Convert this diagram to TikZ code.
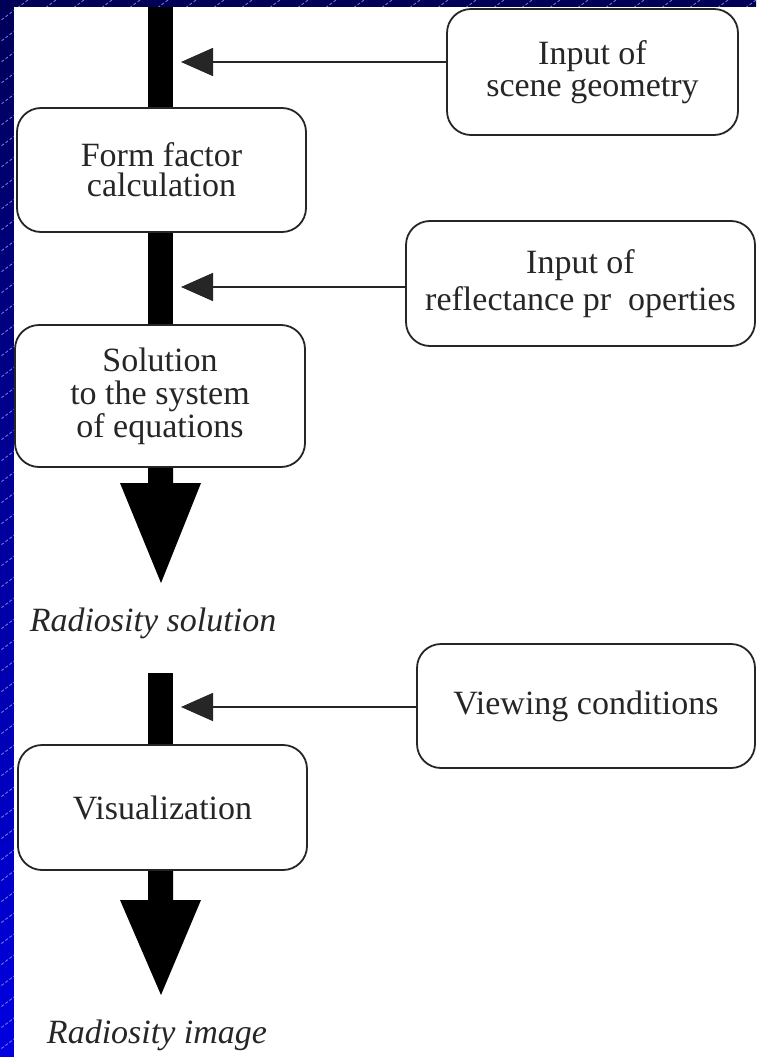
\documentclass[tikz,border=0pt]{standalone}
\usepackage{fontspec}
\setmainfont{Liberation Serif}
\usetikzlibrary{arrows.meta,calc}
\definecolor{bgtop}{RGB}{0,0,88}
\definecolor{bgbot}{RGB}{0,0,225}
\definecolor{stripe}{RGB}{130,130,225}
\begin{document}
\begin{tikzpicture}[x=1pt,y=-1pt,
  box/.style={draw=black!85, line width=1.8pt, rounded corners=24pt, fill=white, align=center,
              font=\fontsize{34}{32}\selectfont, inner sep=0pt, text=black!85},
  bar/.style={line width=25pt, black},
  feed/.style={line width=1.6pt, black!85, -{Triangle[length=32pt,width=28pt]}},
  result/.style={font=\fontsize{34}{40}\selectfont\itshape, text=black!85, inner sep=0pt}
]
\useasboundingbox (0,0) rectangle (756,1057);
% background
\shade[top color=bgtop, bottom color=bgbot] (0,0) rectangle (756,1057);
\begin{scope}
  \clip (0,0) rectangle (756,1057);
  \foreach \k in {0,...,53}
    \draw[stripe, line width=0.8pt, dash pattern=on 3pt off 2pt] (\k*28,0) -- ++(-1410,1057);
\end{scope}
\fill[white] (14,7) rectangle (770,1070);

% boxes
\node[box, minimum width=291pt, minimum height=126pt] (A) at (592.5,72) {Input of\\scene geometry};
\node[box, minimum width=289pt, minimum height=124pt] (F) at (161.5,170) {Form factor\\[-2pt]calculation};
\node[box, minimum width=349pt, minimum height=125pt] (R) at (580.5,283.5) {Input of\\[5pt]reflectance pr\ \ operties};
\node[box, minimum width=290pt, minimum height=142pt, font=\fontsize{34}{33}\selectfont] (S) at (160,396) {Solution\\to the system\\of equations};
\node[box, minimum width=338pt, minimum height=124pt] (V) at (586,706) {Viewing conditions};
\node[box, minimum width=289pt, minimum height=125pt] (Z) at (162.5,807.5) {Visualization};

% results
\node[result] (RS) at (153,623) {Radiosity solution};
\node[result] (RI) at (157,1035) {Radiosity image};

% main bars
\coordinate (top1) at (160.5,7);
\coordinate (top3) at (160.5,673);
\draw[bar] (top1) -- (top1 |- F.north);
\draw[bar] (F.south -| top1) -- (top1 |- S.north);
\draw[bar] (top3) -- (top3 |- Z.north);

% big arrows
\coordinate (tipS) at (161,583);
\coordinate (tipZ) at (161,995);
\fill[black] ($(S.south -| top1)+(-12.5,0)$) -- ($(tipS -| top1)+(-12.5,-100)$) -- ($(tipS)+(-41,-100)$)
  -- (tipS) -- ($(tipS)+(40,-100)$) -- ($(tipS -| top1)+(12.5,-100)$) -- ($(S.south -| top1)+(12.5,0)$) -- cycle;
\fill[black] ($(Z.south -| top1)+(-12.5,0)$) -- ($(tipZ -| top1)+(-12.5,-95)$) -- ($(tipZ)+(-41,-95)$)
  -- (tipZ) -- ($(tipZ)+(40,-95)$) -- ($(tipZ -| top1)+(12.5,-95)$) -- ($(Z.south -| top1)+(12.5,0)$) -- cycle;

% input arrows
\coordinate (t1) at (181,62);
\coordinate (t2) at (181,287);
\coordinate (t3) at (181,707);
\draw[feed] (A.west |- t1) -- (t1);
\draw[feed] (R.west |- t2) -- (t2);
\draw[feed] (V.west |- t3) -- (t3);
\end{tikzpicture}
\end{document}
